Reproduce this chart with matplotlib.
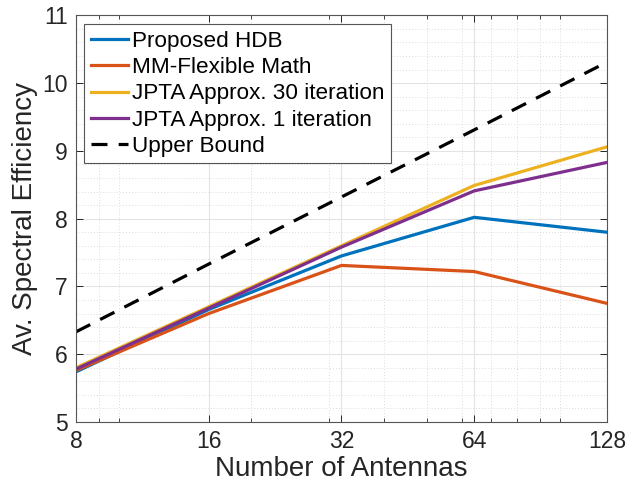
import numpy as np
import matplotlib
matplotlib.use("Agg")
import matplotlib.pyplot as plt
from matplotlib.ticker import FixedLocator, NullFormatter, MultipleLocator

# =====================================
# DATA
# =====================================

antennas = [8, 16, 32, 64, 128]

proposed_hdb = [5.74, 6.66, 7.45, 8.02, 7.80]
mm_flexible = [5.76, 6.60, 7.31, 7.22, 6.75]
jpta_30 = [5.80, 6.70, 7.60, 8.49, 9.06]
jpta_1 = [5.78, 6.68, 7.58, 8.41, 8.83]
upper_bound = [6.33, 7.33, 8.32, 9.31, 10.31]

labels = [
    "Proposed HDB",
    "MM-Flexible Math",
    "JPTA Approx. 30 iteration",
    "JPTA Approx. 1 iteration",
    "Upper Bound",
]

# =====================================
# STYLE
# =====================================

plt.rcParams["font.family"] = ["Liberation Sans", "DejaVu Sans"]

axis_col = "#262626"

fig = plt.figure(figsize=(6.29, 4.87), dpi=100)
ax = fig.add_axes([0.1208, 0.1335, 0.8442, 0.835])

lw = 2.3
ax.plot(antennas, proposed_hdb, color="#0072BD", lw=lw, label=labels[0])
ax.plot(antennas, mm_flexible, color="#D95319", lw=lw, label=labels[1])
ax.plot(antennas, jpta_30, color="#EDB120", lw=lw, label=labels[2])
ax.plot(antennas, jpta_1, color="#7E2F8E", lw=lw, label=labels[3])
ax.plot(antennas, upper_bound, color="black", lw=lw, ls=(0, (5, 3.5)), label=labels[4])

ax.set_xscale("log", base=2)
ax.set_xlim(8, 128)
ax.set_ylim(5, 11)
ax.xaxis.set_major_locator(FixedLocator(antennas))
ax.set_xticklabels([str(a) for a in antennas])
ax.xaxis.set_minor_locator(FixedLocator([9, 10, 20, 30, 40, 50, 60, 70, 80, 90, 100]))
ax.xaxis.set_minor_formatter(NullFormatter())
ax.yaxis.set_major_locator(MultipleLocator(1))
ax.yaxis.set_minor_locator(MultipleLocator(0.2))

ax.grid(which="major", color="#e3e3e3", lw=0.8)
ax.grid(which="minor", color="#d0d0d0", lw=0.6, ls=(0, (1, 2.5)))
ax.set_axisbelow(True)

ax.tick_params(which="both", direction="in", top=True, right=True,
               colors=axis_col, labelsize=16.5)
ax.tick_params(which="major", length=5, width=0.7, pad=6)
ax.tick_params(axis="x", which="minor", length=3, width=0.6)
ax.tick_params(axis="y", which="minor", length=0)
for s in ax.spines.values():
    s.set_color("#555555")
    s.set_linewidth(0.8)

ax.set_xlabel("Number of Antennas", fontsize=20, color=axis_col, labelpad=2)
ax.set_ylabel("Av. Spectral Efficiency", fontsize=20, color=axis_col, labelpad=3)

leg = ax.legend(loc="upper left", bbox_to_anchor=(0.016, 0.978), fontsize=16.2,
                frameon=True, fancybox=False, framealpha=1, edgecolor="#555555",
                handlelength=1.65, handletextpad=0.2, borderpad=0.28,
                labelspacing=0.24, borderaxespad=0)
leg.get_frame().set_linewidth(0.8)

plt.savefig("out.png", dpi=100)
